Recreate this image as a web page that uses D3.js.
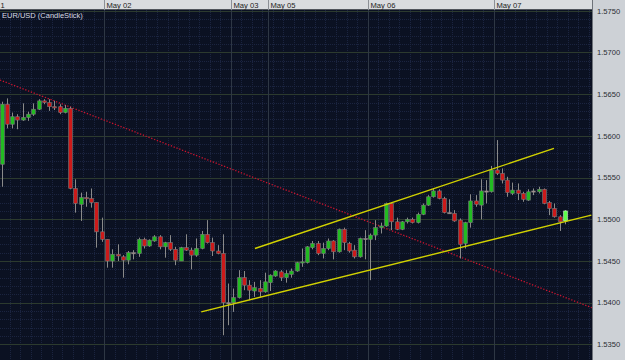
<!DOCTYPE html>
<html>
<head>
<meta charset="utf-8">
<script src="https://cdn.jsdelivr.net/npm/d3@7"></script>
<style>
  body { margin: 0; background: #0b1122; }
  svg { display: block; }
  text { font-family: "Liberation Sans", Arial, sans-serif; }
</style>
</head>
<body>
<svg id="chart" width="625" height="360"></svg>
<script>
// EUR/USD hourly candles
const opens = [
  1.5566, 1.5638, 1.5614, 1.5623, 1.5619, 1.5622, 1.5626, 1.5632, 1.5642, 1.5640,
  1.5635, 1.5635, 1.5628, 1.5633, 1.5537, 1.5518, 1.5526, 1.5525, 1.5520, 1.5485,
  1.5476, 1.5450, 1.5458, 1.5455, 1.5451, 1.5460, 1.5459, 1.5476, 1.5468, 1.5474,
  1.5479, 1.5467, 1.5472, 1.5464, 1.5450, 1.5466, 1.5463, 1.5457, 1.5465, 1.5482,
  1.5472, 1.5462, 1.5459, 1.5400, 1.5400, 1.5406, 1.5430, 1.5421, 1.5414, 1.5417,
  1.5413, 1.5424, 1.5432, 1.5437, 1.5430, 1.5434, 1.5438, 1.5448, 1.5448, 1.5466,
  1.5471, 1.5459, 1.5465, 1.5474, 1.5461, 1.5488, 1.5471, 1.5463, 1.5455, 1.5477,
  1.5476, 1.5481, 1.5490, 1.5492, 1.5519, 1.5497, 1.5488, 1.5497, 1.5500, 1.5496,
  1.5506, 1.5517, 1.5527, 1.5534, 1.5525, 1.5508, 1.5507, 1.5499, 1.5471, 1.5496,
  1.5522, 1.5517, 1.5534, 1.5533, 1.5559, 1.5555, 1.5547, 1.5531, 1.5535, 1.5531,
  1.5523, 1.5534, 1.5533, 1.5536, 1.5520, 1.5513, 1.5503, 1.5498
];
const highs = [
  1.5641, 1.5645, 1.5628, 1.5626, 1.5639, 1.5629, 1.5639, 1.5644, 1.5644, 1.5644,
  1.5642, 1.5638, 1.5637, 1.5635, 1.5548, 1.5532, 1.5533, 1.5537, 1.5520, 1.5502,
  1.5476, 1.5464, 1.5470, 1.5457, 1.5462, 1.5463, 1.5478, 1.5478, 1.5476, 1.5481,
  1.5481, 1.5473, 1.5481, 1.5467, 1.5467, 1.5482, 1.5466, 1.5477, 1.5486, 1.5499,
  1.5478, 1.5469, 1.5482, 1.5423, 1.5417, 1.5439, 1.5438, 1.5427, 1.5425, 1.5427,
  1.5436, 1.5434, 1.5439, 1.5439, 1.5439, 1.5441, 1.5449, 1.5465, 1.5468, 1.5474,
  1.5474, 1.5472, 1.5477, 1.5475, 1.5489, 1.5490, 1.5473, 1.5469, 1.5478, 1.5487,
  1.5483, 1.5499, 1.5496, 1.5520, 1.5520, 1.5502, 1.5498, 1.5502, 1.5502, 1.5508,
  1.5519, 1.5529, 1.5537, 1.5536, 1.5527, 1.5524, 1.5511, 1.5501, 1.5497, 1.5530,
  1.5529, 1.5548, 1.5547, 1.5564, 1.5595, 1.5561, 1.5551, 1.5544, 1.5543, 1.5533,
  1.5536, 1.5537, 1.5539, 1.5537, 1.5522, 1.5519, 1.5505, 1.5511
];
const lows = [
  1.5539, 1.5609, 1.5609, 1.5608, 1.5618, 1.5618, 1.5624, 1.5631, 1.5638, 1.5630,
  1.5631, 1.5626, 1.5627, 1.5536, 1.5508, 1.5498, 1.5515, 1.5514, 1.5466, 1.5473,
  1.5442, 1.5442, 1.5450, 1.5430, 1.5446, 1.5452, 1.5455, 1.5465, 1.5467, 1.5473,
  1.5464, 1.5454, 1.5462, 1.5445, 1.5450, 1.5462, 1.5440, 1.5455, 1.5464, 1.5471,
  1.5456, 1.5458, 1.5361, 1.5373, 1.5389, 1.5405, 1.5415, 1.5403, 1.5407, 1.5407,
  1.5412, 1.5414, 1.5431, 1.5426, 1.5424, 1.5430, 1.5437, 1.5443, 1.5447, 1.5464,
  1.5457, 1.5453, 1.5463, 1.5452, 1.5460, 1.5463, 1.5460, 1.5453, 1.5454, 1.5452,
  1.5427, 1.5475, 1.5483, 1.5491, 1.5487, 1.5487, 1.5487, 1.5495, 1.5495, 1.5495,
  1.5505, 1.5516, 1.5526, 1.5524, 1.5507, 1.5507, 1.5497, 1.5453, 1.5465, 1.5490,
  1.5515, 1.5500, 1.5519, 1.5532, 1.5553, 1.5543, 1.5527, 1.5529, 1.5523, 1.5521,
  1.5522, 1.5529, 1.5531, 1.5518, 1.5505, 1.5502, 1.5486, 1.5494
];
const closes = [
  1.5638, 1.5614, 1.5623, 1.5619, 1.5622, 1.5626, 1.5632, 1.5642, 1.5640, 1.5635,
  1.5634, 1.5628, 1.5633, 1.5537, 1.5519, 1.5526, 1.5525, 1.5520, 1.5485, 1.5476,
  1.5450, 1.5458, 1.5456, 1.5451, 1.5460, 1.5460, 1.5476, 1.5468, 1.5475, 1.5479,
  1.5467, 1.5472, 1.5464, 1.5451, 1.5466, 1.5463, 1.5457, 1.5465, 1.5482, 1.5472,
  1.5462, 1.5459, 1.5400, 1.5400, 1.5406, 1.5430, 1.5421, 1.5415, 1.5418, 1.5413,
  1.5425, 1.5433, 1.5438, 1.5430, 1.5435, 1.5438, 1.5448, 1.5449, 1.5467, 1.5471,
  1.5459, 1.5465, 1.5474, 1.5461, 1.5488, 1.5472, 1.5462, 1.5455, 1.5477, 1.5477,
  1.5481, 1.5490, 1.5492, 1.5519, 1.5497, 1.5488, 1.5497, 1.5500, 1.5496, 1.5506,
  1.5517, 1.5527, 1.5534, 1.5525, 1.5508, 1.5508, 1.5498, 1.5470, 1.5496, 1.5522,
  1.5518, 1.5534, 1.5534, 1.5559, 1.5555, 1.5547, 1.5532, 1.5535, 1.5531, 1.5524,
  1.5533, 1.5534, 1.5536, 1.5519, 1.5513, 1.5503, 1.5497, 1.5510
];

const priceTicks = [1.5350, 1.5400, 1.5450, 1.5500, 1.5550, 1.5600, 1.5650, 1.5700, 1.5750];
const dayLabels = ["May 02", "May 03", "May 05", "May 06", "May 07"];
const dayStarts = [19.5, 43.5, 50.5, 69.5, 93.5];   // candle index where the day begins

// trend lines: [candle index, price]
const trendRed = [[-0.32, 1.5667], [112.1, 1.5394]];
const channelTop = [[48.1, 1.5465], [104.9, 1.5585]];
const channelBottom = [[37.9, 1.5389], [112.0, 1.5505]];

const W = 625, H = 360;
const plotRight = 592, plotTop = 10;

const candles = opens.map((o, i) => ({ i, o, h: highs[i], l: lows[i], c: closes[i] }));

const x = d3.scaleLinear().domain([0, candles.length - 1]).range([1.7, 565]);
const y = d3.scaleLinear().domain([1.535, 1.575]).range([344.4, 10.8]);

const svg = d3.select("#chart");

svg.append("defs").append("clipPath").attr("id", "plot")
  .append("rect").attr("x", 0).attr("y", plotTop).attr("width", plotRight).attr("height", H - plotTop);

svg.append("rect").attr("width", W).attr("height", H).attr("fill", "#0b1122");

const grid = svg.append("g").attr("clip-path", "url(#plot)");

// faint dotted minor grid
grid.selectAll(".hmin").data(y.ticks(40))
  .join("line")
  .attr("x1", 0).attr("x2", plotRight)
  .attr("y1", d => Math.round(y(d)) + 0.5).attr("y2", d => Math.round(y(d)) + 0.5)
  .attr("stroke", "#1b2440").attr("stroke-width", 1).attr("stroke-dasharray", "1,1");
grid.selectAll(".vmin").data(d3.range(-0.5, 112, 2))
  .join("line")
  .attr("x1", d => Math.round(x(d)) + 0.5).attr("x2", d => Math.round(x(d)) + 0.5)
  .attr("y1", plotTop).attr("y2", H)
  .attr("stroke", "#1b2440").attr("stroke-width", 1).attr("stroke-dasharray", "1,1");

// major price lines
grid.selectAll(".hmaj").data(priceTicks)
  .join("line")
  .attr("x1", 0).attr("x2", plotRight)
  .attr("y1", d => Math.round(y(d)) + 0.5).attr("y2", d => Math.round(y(d)) + 0.5)
  .attr("stroke", "#2c3a2e").attr("stroke-width", 1);

// day separators
grid.selectAll(".vday").data(dayStarts)
  .join("line")
  .attr("x1", d => Math.round(x(d)) + 0.5).attr("x2", d => Math.round(x(d)) + 0.5)
  .attr("y1", plotTop).attr("y2", H)
  .attr("stroke", "#2e3744").attr("stroke-width", 1);

const plot = svg.append("g").attr("clip-path", "url(#plot)");

const line = d3.line().x(d => x(d[0])).y(d => y(d[1]));

plot.append("path").attr("d", line(trendRed))
  .attr("fill", "none").attr("stroke", "#c8142e").attr("stroke-width", 1.3)
  .attr("stroke-dasharray", "1.3,1.7");

// candles
const cw = 3.6;
const g = plot.selectAll(".candle").data(candles).join("g");

g.append("line")
  .attr("x1", d => Math.round(x(d.i)) + 0.5).attr("x2", d => Math.round(x(d.i)) + 0.5)
  .attr("y1", d => y(d.h)).attr("y2", d => y(d.l))
  .attr("stroke", "#8a8a8a").attr("stroke-width", 1);

g.append("rect")
  .attr("x", d => Math.round(x(d.i)) + 0.5 - cw / 2)
  .attr("width", cw)
  .attr("y", d => y(Math.max(d.o, d.c)))
  .attr("height", d => Math.max(1.2, Math.abs(y(d.o) - y(d.c))))
  .attr("fill", d => {
    if (d.i === candles.length - 1) return "#5cff4a";
    if (d.c === d.o) return "#b89a9a";
    return d.c > d.o ? "#22bb22" : "#cc1a1a";
  })
  .attr("stroke", d => d.i === candles.length - 1 ? "#d8ffd0" : "#7c7c7c")
  .attr("stroke-width", 0.6);

// channel
[channelTop, channelBottom].forEach(pts => {
  plot.append("path").attr("d", line(pts))
    .attr("fill", "none").attr("stroke", "#d2d200").attr("stroke-width", 1.4);
});

svg.append("text").attr("x", 2).attr("y", 18)
  .attr("font-size", 7.5).attr("fill", "#d8dce4")
  .text("EUR/USD (CandleStick)");

// price axis panel
const axisG = svg.append("g");
axisG.append("rect").attr("x", plotRight).attr("y", 0).attr("width", W - plotRight).attr("height", H)
  .attr("fill", "#cdd1d6");
axisG.append("line").attr("x1", plotRight + 0.5).attr("x2", plotRight + 0.5).attr("y1", 0).attr("y2", H)
  .attr("stroke", "#6e737a");
axisG.selectAll(".plabel").data(priceTicks)
  .join("text")
  .attr("x", 597).attr("y", d => y(d) + 2.7)
  .attr("font-size", 7.6).attr("fill", "#2a2d33")
  .text(d => d.toFixed(4));

// time header
const head = svg.append("g");
head.append("rect").attr("x", 0).attr("y", 0).attr("width", plotRight).attr("height", plotTop)
  .attr("fill", "#d9dcdf");
head.append("line").attr("x1", 0).attr("x2", plotRight).attr("y1", plotTop - 0.5).attr("y2", plotTop - 0.5)
  .attr("stroke", "#50555c");
head.append("text").attr("x", 0.5).attr("y", 8).attr("font-size", 7.6).attr("fill", "#222").text("1");
head.selectAll(".dsep").data(dayStarts)
  .join("line")
  .attr("x1", d => Math.round(x(d)) + 0.5).attr("x2", d => Math.round(x(d)) + 0.5)
  .attr("y1", 0).attr("y2", plotTop)
  .attr("stroke", "#8c9096");
head.selectAll(".dlabel").data(dayLabels)
  .join("text")
  .attr("x", (d, i) => Math.round(x(dayStarts[i])) + 2.5)
  .attr("y", 8)
  .attr("font-size", 7.6).attr("fill", "#222")
  .text(d => d);
</script>
</body>
</html>
